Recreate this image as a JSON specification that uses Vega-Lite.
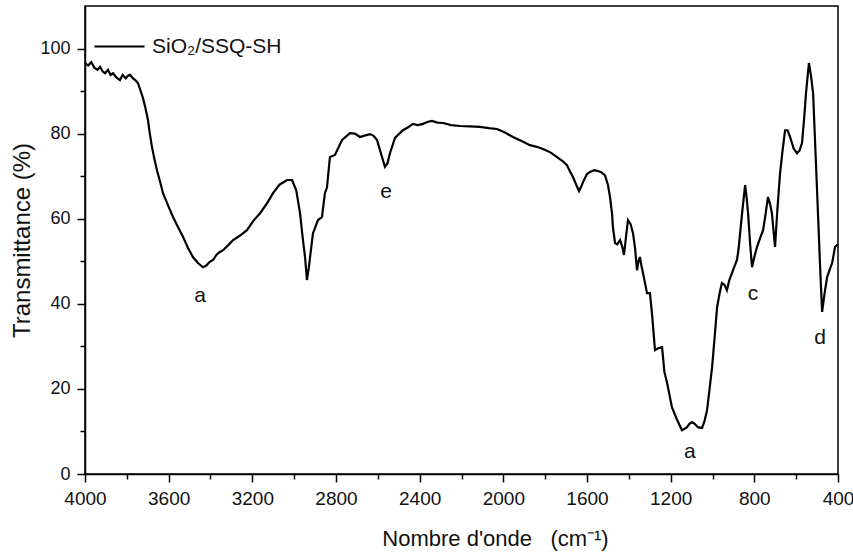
{
  "$schema": "https://vega.github.io/schema/vega-lite/v6.json",
  "width": 753,
  "height": 468,
  "autosize": {"type": "none"},
  "padding": {"left": 85, "top": 6, "right": 15, "bottom": 79},
  "background": "white",
  "config": {
    "font": "Liberation Sans",
    "view": {"stroke": "black", "strokeWidth": 1.5},
    "axis": {"domainColor": "black", "tickColor": "black", "labelColor": "#111", "titleColor": "#111", "domainWidth": 1.5, "tickWidth": 1.5, "grid": false}
  },
  "datasets": {
    "spectrum": [
      {"w":4000,"t":96.6},{"w":3985,"t":96.0},{"w":3970,"t":96.8},{"w":3955,"t":95.5},{"w":3940,"t":95.0},{"w":3928,"t":95.7},{"w":3915,"t":94.6},{"w":3904,"t":94.2},{"w":3890,"t":95.0},{"w":3878,"t":93.8},{"w":3866,"t":94.2},{"w":3850,"t":93.2},{"w":3833,"t":92.6},{"w":3820,"t":93.8},{"w":3805,"t":93.0},{"w":3795,"t":93.6},{"w":3785,"t":93.8},{"w":3770,"t":93.0},{"w":3760,"t":92.6},{"w":3747,"t":91.9},{"w":3735,"t":90.2},{"w":3723,"t":88.4},{"w":3710,"t":85.8},{"w":3699,"t":83.2},{"w":3690,"t":80.0},{"w":3680,"t":76.9},{"w":3668,"t":74.0},{"w":3656,"t":71.4},{"w":3640,"t":68.5},{"w":3627,"t":66.0},{"w":3600,"t":62.8},{"w":3579,"t":60.4},{"w":3555,"t":58.0},{"w":3531,"t":55.7},{"w":3508,"t":53.2},{"w":3484,"t":51.0},{"w":3460,"t":49.6},{"w":3436,"t":48.6},{"w":3420,"t":49.0},{"w":3405,"t":49.8},{"w":3388,"t":50.3},{"w":3370,"t":51.6},{"w":3355,"t":52.2},{"w":3340,"t":52.6},{"w":3315,"t":53.8},{"w":3292,"t":55.0},{"w":3260,"t":56.0},{"w":3226,"t":57.3},{"w":3195,"t":59.5},{"w":3163,"t":61.3},{"w":3130,"t":63.6},{"w":3101,"t":66.0},{"w":3070,"t":68.0},{"w":3034,"t":69.1},{"w":3010,"t":69.1},{"w":2990,"t":66.7},{"w":2972,"t":61.3},{"w":2958,"t":55.0},{"w":2948,"t":51.0},{"w":2939,"t":45.6},{"w":2930,"t":48.5},{"w":2924,"t":51.0},{"w":2910,"t":56.6},{"w":2886,"t":59.7},{"w":2867,"t":60.4},{"w":2853,"t":66.0},{"w":2843,"t":67.4},{"w":2829,"t":74.5},{"w":2805,"t":75.0},{"w":2771,"t":78.5},{"w":2733,"t":80.1},{"w":2710,"t":80.0},{"w":2685,"t":79.2},{"w":2660,"t":79.6},{"w":2637,"t":79.9},{"w":2620,"t":79.5},{"w":2604,"t":78.5},{"w":2580,"t":74.5},{"w":2566,"t":72.2},{"w":2554,"t":73.0},{"w":2542,"t":75.4},{"w":2518,"t":79.0},{"w":2480,"t":80.8},{"w":2455,"t":81.5},{"w":2432,"t":82.3},{"w":2410,"t":82.0},{"w":2384,"t":82.3},{"w":2360,"t":82.8},{"w":2341,"t":83.0},{"w":2315,"t":82.6},{"w":2288,"t":82.5},{"w":2250,"t":82.0},{"w":2207,"t":81.8},{"w":2160,"t":81.7},{"w":2112,"t":81.6},{"w":2070,"t":81.3},{"w":2030,"t":81.1},{"w":1990,"t":80.2},{"w":1954,"t":79.2},{"w":1910,"t":78.2},{"w":1873,"t":77.3},{"w":1840,"t":76.9},{"w":1810,"t":76.4},{"w":1775,"t":75.6},{"w":1743,"t":74.5},{"w":1715,"t":73.5},{"w":1696,"t":72.6},{"w":1680,"t":71.0},{"w":1667,"t":69.8},{"w":1650,"t":67.8},{"w":1638,"t":66.5},{"w":1628,"t":67.5},{"w":1619,"t":68.6},{"w":1600,"t":70.5},{"w":1586,"t":71.0},{"w":1565,"t":71.4},{"w":1547,"t":71.2},{"w":1530,"t":70.9},{"w":1514,"t":70.2},{"w":1500,"t":68.0},{"w":1490,"t":65.1},{"w":1480,"t":61.0},{"w":1476,"t":58.0},{"w":1466,"t":54.3},{"w":1455,"t":54.0},{"w":1442,"t":55.0},{"w":1432,"t":53.5},{"w":1423,"t":51.5},{"w":1413,"t":56.0},{"w":1404,"t":59.7},{"w":1392,"t":58.8},{"w":1380,"t":56.6},{"w":1370,"t":53.0},{"w":1361,"t":47.9},{"w":1354,"t":50.0},{"w":1347,"t":51.0},{"w":1340,"t":49.0},{"w":1332,"t":47.2},{"w":1313,"t":42.5},{"w":1299,"t":42.5},{"w":1288,"t":37.0},{"w":1275,"t":29.1},{"w":1258,"t":29.6},{"w":1241,"t":29.8},{"w":1230,"t":24.0},{"w":1217,"t":21.4},{"w":1194,"t":15.7},{"w":1170,"t":12.8},{"w":1146,"t":10.3},{"w":1134,"t":10.6},{"w":1122,"t":11.0},{"w":1110,"t":11.8},{"w":1098,"t":12.2},{"w":1085,"t":11.8},{"w":1070,"t":11.0},{"w":1050,"t":10.8},{"w":1038,"t":12.5},{"w":1026,"t":15.0},{"w":1014,"t":20.0},{"w":1002,"t":25.1},{"w":990,"t":32.0},{"w":978,"t":39.2},{"w":966,"t":42.5},{"w":955,"t":44.9},{"w":943,"t":44.5},{"w":931,"t":43.2},{"w":920,"t":45.5},{"w":907,"t":47.2},{"w":895,"t":48.8},{"w":883,"t":50.3},{"w":875,"t":53.0},{"w":868,"t":56.6},{"w":856,"t":62.5},{"w":844,"t":67.9},{"w":837,"t":65.0},{"w":830,"t":61.3},{"w":820,"t":54.0},{"w":811,"t":48.6},{"w":800,"t":51.0},{"w":787,"t":53.4},{"w":772,"t":55.5},{"w":758,"t":57.3},{"w":745,"t":61.5},{"w":735,"t":65.1},{"w":725,"t":63.5},{"w":716,"t":61.3},{"w":708,"t":57.0},{"w":701,"t":53.4},{"w":690,"t":62.0},{"w":677,"t":70.7},{"w":665,"t":76.0},{"w":653,"t":80.8},{"w":641,"t":80.8},{"w":629,"t":79.2},{"w":612,"t":76.5},{"w":596,"t":75.4},{"w":584,"t":76.0},{"w":572,"t":77.8},{"w":562,"t":83.5},{"w":553,"t":89.5},{"w":539,"t":96.6},{"w":529,"t":93.5},{"w":519,"t":89.5},{"w":507,"t":75.0},{"w":495,"t":60.4},{"w":485,"t":48.0},{"w":476,"t":38.1},{"w":464,"t":42.5},{"w":452,"t":46.3},{"w":440,"t":48.0},{"w":428,"t":49.6},{"w":414,"t":53.4},{"w":400,"t":54.0}
    ],
    "labels": [
      {"w":3450,"t":41.8,"label":"a"},
      {"w":2561,"t":66.3,"label":"e"},
      {"w":1108,"t":5.2,"label":"a"},
      {"w":806,"t":42.3,"label":"c"},
      {"w":486,"t":32.0,"label":"d"}
    ]
  },
  "layer": [
    {
      "data": {"name": "spectrum"},
      "transform": [{"calculate": "'SiO₂/SSQ-SH'", "as": "series"}],
      "mark": {"type": "line", "strokeWidth": 2.2, "interpolate": "linear"},
      "encoding": {
        "x": {"field": "w", "type": "quantitative", "sort": null,
          "scale": {"domain": [4000, 400], "nice": false, "zero": false},
          "axis": {"orient": "bottom", "values": [4000,3600,3200,2800,2400,2000,1600,1200,800,400], "title": "Nombre d'onde\u00a0\u00a0\u00a0(cm⁻¹)", "titleFontSize": 22, "titleFontWeight": "normal", "titlePadding": 20, "titleX": 410, "titleAlign": "center", "labelFontSize": 19, "tickSize": 8, "labelPadding": 7, "format": "d", "labelFlush": false}},
        "y": {"field": "t", "type": "quantitative",
          "scale": {"domain": [0, 110], "nice": false},
          "axis": {"orient": "left", "values": [0,20,40,60,80,100], "title": "Transmittance (%)", "titleFontSize": 24, "titleFontWeight": "normal", "titlePadding": 5, "labelFontSize": 18, "tickSize": 8, "labelPadding": 7}},
        "color": {"field": "series", "type": "nominal",
          "scale": {"range": ["black"]},
          "legend": {"title": null, "orient": "none", "legendX": 8, "legendY": 14, "symbolType": "stroke", "symbolSize": 2500, "symbolStrokeWidth": 2.2, "labelFontSize": 21, "labelColor": "#111", "labelOffset": 6}},
        "order": {"field": "w", "type": "quantitative", "sort": "descending"}
      }
    },
    {
      "data": {"name": "labels"},
      "mark": {"type": "text", "fontSize": 21, "color": "#111", "baseline": "middle"},
      "encoding": {
        "x": {"field": "w", "type": "quantitative",
          "axis": {"orient": "bottom", "values": [3800,3400,3000,2600,2200,1800,1400,1000,600], "labels": false, "domain": false, "tickSize": 5, "title": null}},
        "y": {"field": "t", "type": "quantitative",
          "axis": {"orient": "left", "values": [10,30,50,70,90], "labels": false, "domain": false, "tickSize": 5, "title": null}},
        "text": {"field": "label"}
      }
    }
  ],
  "resolve": {"axis": {"x": "independent", "y": "independent"}}
}
